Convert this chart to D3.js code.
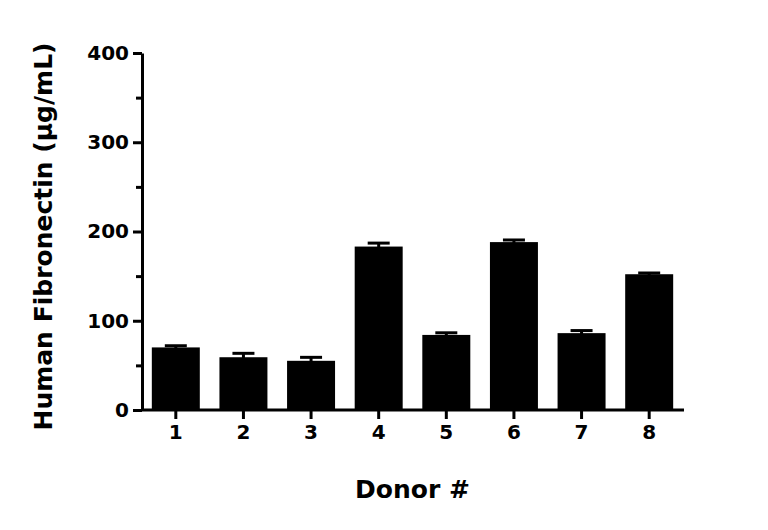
<!DOCTYPE html>
<html lang="en">
<head>
<meta charset="UTF-8">
<script src="https://d3js.org/d3.v7.js"></script>
<style>
    body { margin: 0; background: #fff; }
    svg { font-family: "DejaVu Sans", sans-serif; font-weight: bold; }
    .axis text { font-size: 20px; font-weight: bold; fill: #000; font-family: "DejaVu Sans", sans-serif; }
    .axis path, .axis line { stroke: #000; stroke-width: 3px; }
</style>
</head>
<body>
<svg width="768" height="530"></svg>
<script>
    const donors = ["1", "2", "3", "4", "5", "6", "7", "8"];
    const means = [69, 58, 54, 182, 83, 187, 85, 151];
    const errors = [3, 5.5, 5, 5, 3.5, 3.5, 4, 2.5];
    const yTicks = [0, 100, 200, 300, 400];

    const margins = { top: 53, bottom: 120, left: 142, right: 85 };
    const width = 768, height = 530;
    const svg = d3.select("svg");

    const x = d3.scaleBand().domain(donors)
        .range([margins.left, width - margins.right]).paddingInner(0.32).paddingOuter(0.16);
    const y = d3.scaleLinear().domain([0, 400]).range([height - margins.bottom, margins.top]);

    svg.append("g").attr("class", "axis")
        .attr("transform", `translate(0,${y(0)})`)
        .call(d3.axisBottom(x).tickSize(9).tickPadding(6).tickSizeOuter(0))
        .call(g => g.select(".domain").attr("d", `M${margins.left},0H${width - margins.right + 1}`));

    svg.append("g").attr("class", "axis")
        .attr("transform", `translate(${margins.left},0)`)
        .call(d3.axisLeft(y).tickValues(d3.range(0, 401, 50)).tickSize(9).tickPadding(4)
            .tickSizeOuter(0).tickFormat(d => yTicks.includes(d) ? d : ""))
        .call(g => g.selectAll(".tick line").attr("x2", d => yTicks.includes(d) ? -9 : -6));

    const bars = svg.append("g");
    donors.forEach((d, i) => {
        const cx = x(d) + x.bandwidth() / 2;
        bars.append("line").attr("x1", cx).attr("x2", cx)
            .attr("y1", y(means[i])).attr("y2", y(means[i] + errors[i]))
            .attr("stroke", "#000").attr("stroke-width", 3);
        bars.append("line").attr("x1", cx - 11).attr("x2", cx + 11)
            .attr("y1", y(means[i] + errors[i])).attr("y2", y(means[i] + errors[i]))
            .attr("stroke", "#000").attr("stroke-width", 3);
        bars.append("rect").attr("x", x(d)).attr("width", x.bandwidth())
            .attr("y", y(means[i])).attr("height", y(0) - y(means[i]))
            .attr("fill", "#000").attr("stroke", "#000").attr("stroke-width", 2);
    });

    svg.append("text").attr("x", (margins.left + width - margins.right) / 2).attr("y", 498)
        .attr("text-anchor", "middle").attr("font-size", 25).text("Donor #");
    svg.append("text").attr("transform", `translate(52,${(y(0) + y(400)) / 2 + 5}) rotate(-90)`)
        .attr("text-anchor", "middle").attr("font-size", 25).text("Human Fibronectin (μg/mL)");
</script>
</body>
</html>
